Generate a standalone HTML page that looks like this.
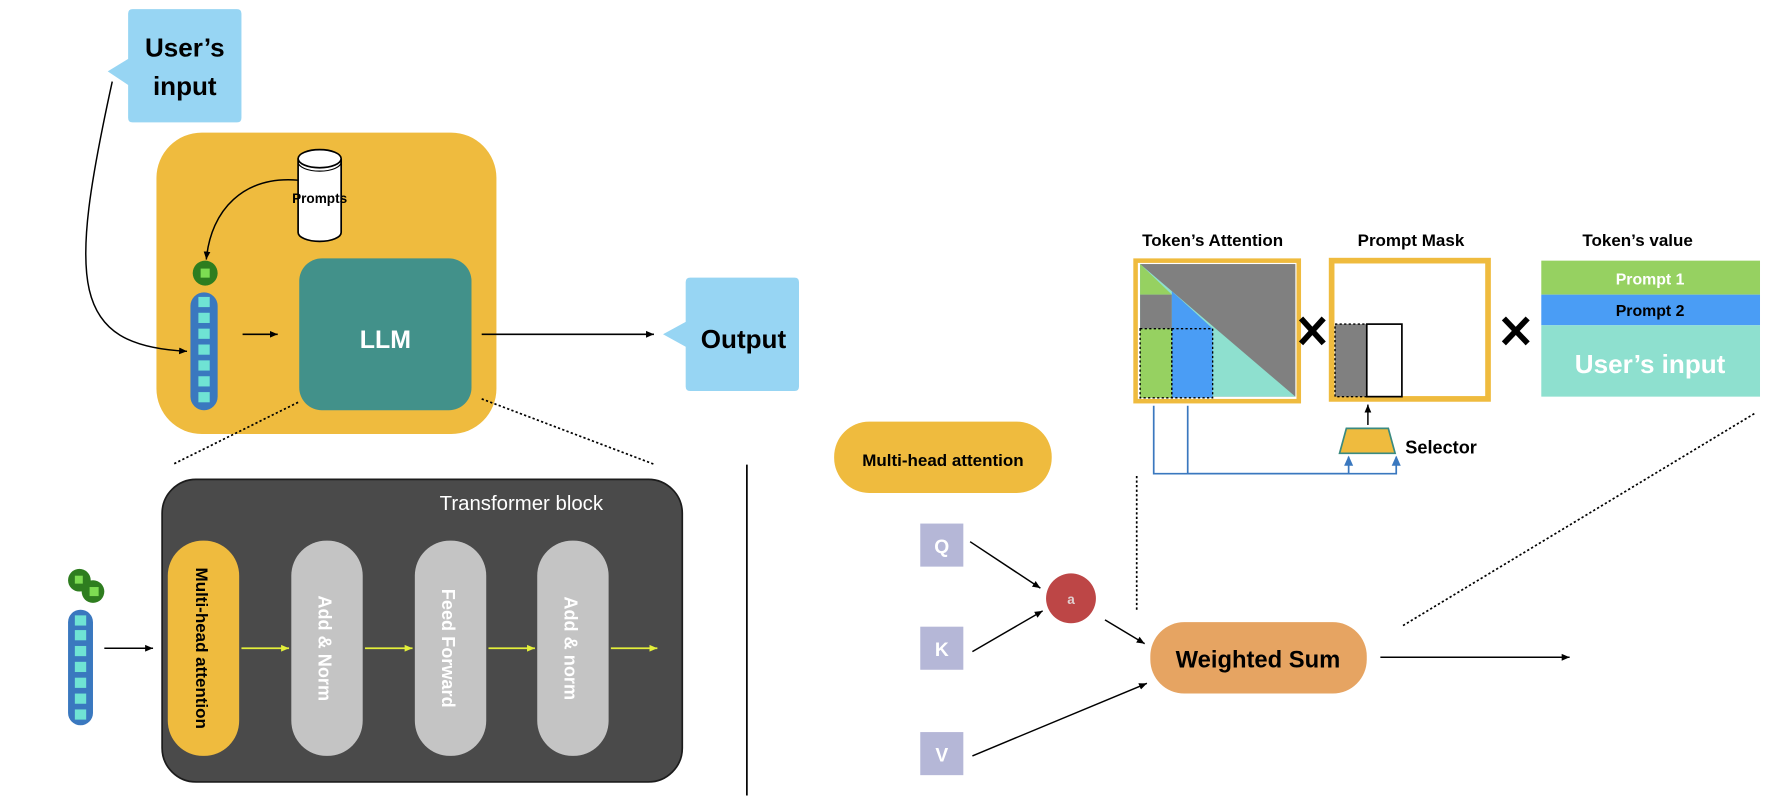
<!DOCTYPE html>
<html><head><meta charset="utf-8"><style>
html,body{margin:0;padding:0;background:#fff;width:1768px;height:796px;overflow:hidden}
text{font-family:"Liberation Sans",sans-serif;font-weight:bold}
</style></head><body>
<svg width="1768" height="796" viewBox="0 0 1560 702.4" xmlns="http://www.w3.org/2000/svg">
<defs>
<marker id="ab" markerWidth="8" markerHeight="8" refX="7" refY="4" orient="auto" markerUnits="userSpaceOnUse"><path d="M0,1 L7,4 L0,7 z" fill="#000"/></marker>
<marker id="ay" markerWidth="8" markerHeight="8" refX="7" refY="4" orient="auto" markerUnits="userSpaceOnUse"><path d="M0,1 L7,4 L0,7 z" fill="#e3ef3a"/></marker>
<marker id="abl" markerWidth="10" markerHeight="10" refX="8" refY="5" orient="auto" markerUnits="userSpaceOnUse"><path d="M0,1 L9,5 L0,9 z" fill="#3a78bf"/></marker>
</defs>

<!-- User's input bubble -->
<path d="M113,12 Q113,8 117,8 L209,8 Q213,8 213,12 L213,104 Q213,108 209,108 L117,108 Q113,108 113,104 L113,75 L95,63 L113,52 Z" fill="#97d5f3"/>
<text x="163" y="50" font-size="23" text-anchor="middle">User’s</text>
<text x="163" y="84" font-size="23" text-anchor="middle">input</text>

<!-- Yellow LLM area -->
<rect x="138" y="117" width="300" height="266" rx="40" fill="#efbb3e"/>
<path d="M99,72 C60,250 62,305 165,310" fill="none" stroke="#000" stroke-width="1.3" marker-end="url(#ab)"/>
<!-- cylinder -->
<path d="M263,140 L263,205 A19,8 0 0 0 301,205 L301,140" fill="#fff" stroke="#000" stroke-width="1.5"/>
<ellipse cx="282" cy="140" rx="19" ry="8" fill="#fff" stroke="#000" stroke-width="1.5"/>
<path d="M263,143 A19,8 0 0 0 301,143" fill="none" stroke="#000" stroke-width="1"/>
<text x="282" y="179" font-size="12" text-anchor="middle">Prompts</text>
<path d="M263,159 C215,155 186,185 182,229" fill="none" stroke="#000" stroke-width="1.3" marker-end="url(#ab)"/>
<!-- green circle -->
<ellipse cx="181" cy="241" rx="11" ry="11" fill="#2e7d1f"/>
<rect x="177" y="237" width="8" height="8" fill="#7ddc52"/>
<!-- blue pill -->
<rect x="168" y="258" width="24" height="104" rx="12" fill="#3a78bf"/>
<g fill="#6fe3d4">
<rect x="175" y="262" width="10" height="9"/><rect x="175" y="276" width="10" height="9"/><rect x="175" y="290" width="10" height="9"/><rect x="175" y="304" width="10" height="9"/><rect x="175" y="318" width="10" height="9"/><rect x="175" y="332" width="10" height="9"/><rect x="175" y="346" width="10" height="9"/>
</g>
<line x1="214" y1="295" x2="245" y2="295" stroke="#000" stroke-width="1.5" marker-end="url(#ab)"/>
<rect x="264" y="228" width="152" height="134" rx="20" fill="#42918a"/>
<text x="340" y="307" font-size="22" fill="#fff" text-anchor="middle">LLM</text>
<line x1="425" y1="295" x2="577" y2="295" stroke="#000" stroke-width="1.5" marker-end="url(#ab)"/>
<!-- Output bubble -->
<path d="M605,249 Q605,245 609,245 L701,245 Q705,245 705,249 L705,341 Q705,345 701,345 L609,345 Q605,345 605,341 L605,306 L585,295 L605,284 Z" fill="#97d5f3"/>
<text x="656" y="307" font-size="23" text-anchor="middle">Output</text>

<!-- dotted zoom lines -->
<line x1="263" y1="355" x2="152" y2="410" stroke="#000" stroke-width="1.5" stroke-dasharray="2,2"/>
<line x1="425" y1="352" x2="578" y2="410" stroke="#000" stroke-width="1.5" stroke-dasharray="2,2"/>

<!-- Transformer block -->
<rect x="143" y="423" width="459" height="267" rx="30" fill="#4a4a4a" stroke="#1c1c1c" stroke-width="1.5"/>
<text x="460" y="450" font-size="18" fill="#fff" style="font-weight:normal" text-anchor="middle">Transformer block</text>
<rect x="148" y="477" width="63" height="190" rx="31" fill="#efbb3e"/>
<rect x="257" y="477" width="63" height="190" rx="31" fill="#c4c4c4"/>
<rect x="366" y="477" width="63" height="190" rx="31" fill="#c4c4c4"/>
<rect x="474" y="477" width="63" height="190" rx="31" fill="#c4c4c4"/>
<text transform="translate(173,572) rotate(90)" font-size="15" text-anchor="middle">Multi-head attention</text>
<text transform="translate(281,572) rotate(90)" font-size="16" fill="#fff" text-anchor="middle">Add &amp; Norm</text>
<text transform="translate(390,572) rotate(90)" font-size="16" fill="#fff" text-anchor="middle">Feed Forward</text>
<text transform="translate(498,572) rotate(90)" font-size="16" fill="#fff" text-anchor="middle">Add &amp; norm</text>
<g stroke="#e3ef3a" stroke-width="1.5">
<line x1="213" y1="572" x2="255" y2="572" marker-end="url(#ay)"/>
<line x1="322" y1="572" x2="364" y2="572" marker-end="url(#ay)"/>
<line x1="431" y1="572" x2="472" y2="572" marker-end="url(#ay)"/>
<line x1="539" y1="572" x2="580" y2="572" marker-end="url(#ay)"/>
</g>
<!-- left input tokens -->
<circle cx="70" cy="512" r="10" fill="#2e7d1f"/><rect x="66" y="508" width="7" height="7" fill="#7ddc52"/>
<circle cx="82" cy="522" r="10" fill="#2e7d1f"/><rect x="79" y="518" width="8" height="8" fill="#7ddc52"/>
<rect x="60" y="538" width="22" height="102" rx="11" fill="#3a78bf"/>
<g fill="#6fe3d4">
<rect x="66" y="543" width="10" height="9"/><rect x="66" y="556" width="10" height="9"/><rect x="66" y="570" width="10" height="9"/><rect x="66" y="584" width="10" height="9"/><rect x="66" y="598" width="10" height="9"/><rect x="66" y="612" width="10" height="9"/><rect x="66" y="626" width="10" height="9"/>
</g>
<line x1="92" y1="572" x2="135" y2="572" stroke="#000" stroke-width="1.3" marker-end="url(#ab)"/>
<line x1="659" y1="410" x2="659" y2="702" stroke="#000" stroke-width="1.5"/>

<!-- Right: multi-head attention -->
<rect x="736" y="372" width="192" height="63" rx="31" fill="#efbb3e"/>
<text x="832" y="411" font-size="15" text-anchor="middle">Multi-head attention</text>
<g fill="#b5b7d7">
<rect x="812" y="462" width="38" height="38"/><rect x="812" y="553" width="38" height="38"/><rect x="812" y="646" width="38" height="38"/>
</g>
<text x="831" y="488" font-size="17" fill="#fff" text-anchor="middle">Q</text>
<text x="831" y="579" font-size="17" fill="#fff" text-anchor="middle">K</text>
<text x="831" y="672" font-size="17" fill="#fff" text-anchor="middle">V</text>
<circle cx="945" cy="528" r="22" fill="#bd4646"/>
<text x="945" y="533" font-size="12" fill="#e0d0d0" text-anchor="middle">a</text>
<g stroke="#000" stroke-width="1.3">
<line x1="856" y1="478" x2="918" y2="519" marker-end="url(#ab)"/>
<line x1="858" y1="575" x2="920" y2="539" marker-end="url(#ab)"/>
<line x1="975" y1="547" x2="1010" y2="568" marker-end="url(#ab)"/>
<line x1="858" y1="667" x2="1012" y2="603" marker-end="url(#ab)"/>
<line x1="1218" y1="580" x2="1385" y2="580" marker-end="url(#ab)"/>
</g>
<rect x="1015" y="549" width="191" height="63" rx="30" fill="#e6a462"/>
<text x="1110" y="589" font-size="21" text-anchor="middle">Weighted Sum</text>
<line x1="1003" y1="420" x2="1003" y2="540" stroke="#000" stroke-width="1.5" stroke-dasharray="2,2"/>
<line x1="1238" y1="552" x2="1548" y2="365" stroke="#000" stroke-width="1.5" stroke-dasharray="2,2"/>

<!-- Token's attention -->
<text x="1070" y="217" font-size="15" text-anchor="middle">Token’s Attention</text>
<rect x="1002" y="230" width="144" height="124" fill="none" stroke="#efbb3e" stroke-width="4"/>
<rect x="1006" y="233" width="137" height="117" fill="#808080"/>
<polygon points="1006,233 1143,350 1006,350" fill="#8ee0cf"/>
<polygon points="1006,233 1034,260 1006,260" fill="#96d161"/>
<rect x="1006" y="260" width="28" height="30" fill="#808080"/>
<polygon points="1034,257 1070,290 1070,351 1034,351" fill="#4a9df5"/>
<rect x="1006" y="290" width="28" height="61" fill="#96d161"/>
<rect x="1006" y="290" width="28" height="61" fill="none" stroke="#000" stroke-width="1.2" stroke-dasharray="2,2"/>
<rect x="1034" y="290" width="36" height="61" fill="none" stroke="#000" stroke-width="1.2" stroke-dasharray="2,2"/>
<!-- X marks -->
<g stroke="#000" stroke-width="5">
<line x1="1148" y1="281" x2="1168" y2="303"/><line x1="1168" y1="281" x2="1148" y2="303"/>
<line x1="1327" y1="281" x2="1348" y2="303"/><line x1="1348" y1="281" x2="1327" y2="303"/>
</g>
<!-- Prompt mask -->
<text x="1245" y="217" font-size="15" text-anchor="middle">Prompt Mask</text>
<rect x="1175" y="230" width="138" height="122" fill="#fff" stroke="#efbb3e" stroke-width="5"/>
<rect x="1178" y="286" width="28" height="64" fill="#808080" stroke="#000" stroke-width="1.2" stroke-dasharray="2,2"/>
<rect x="1206" y="286" width="31" height="64" fill="#fff" stroke="#000" stroke-width="1.5"/>
<!-- Token's value -->
<text x="1445" y="217" font-size="15" text-anchor="middle">Token’s value</text>
<rect x="1360" y="230" width="193" height="30" fill="#96d161"/>
<rect x="1360" y="260" width="193" height="27" fill="#4a9df5"/>
<rect x="1360" y="287" width="193" height="63" fill="#8ee0cf"/>
<text x="1456" y="251" font-size="14" fill="#fff" text-anchor="middle">Prompt 1</text>
<text x="1456" y="279" font-size="14" text-anchor="middle">Prompt 2</text>
<text x="1456" y="329" font-size="23" fill="#fff" text-anchor="middle">User’s input</text>
<!-- selector -->
<line x1="1207" y1="375" x2="1207" y2="357" stroke="#000" stroke-width="1.3" marker-end="url(#ab)"/>
<polygon points="1188,378 1225,378 1231,400 1182,400" fill="#efbb3e" stroke="#3a8a80" stroke-width="1.5"/>
<text x="1240" y="400" font-size="16">Selector</text>
<g fill="none" stroke="#3a78bf" stroke-width="1.5">
<polyline points="1018,358 1018,418 1232,418 1232,403" marker-end="url(#abl)"/>
<polyline points="1048,358 1048,418 1190,418 1190,403" marker-end="url(#abl)"/>
</g>
</svg>
</body></html>
